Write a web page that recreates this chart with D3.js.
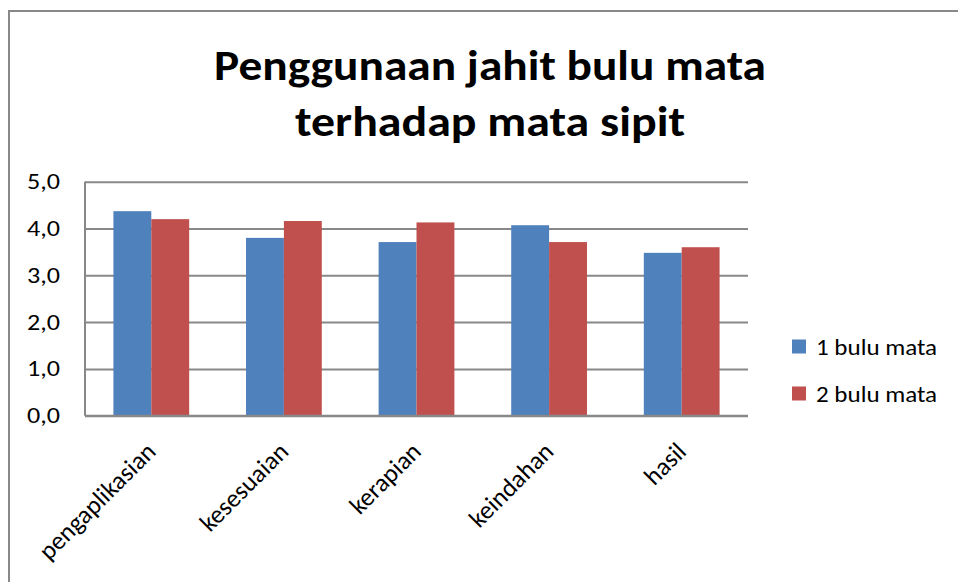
<!DOCTYPE html>
<html>
<head>
<meta charset="utf-8">
<script src="https://cdn.jsdelivr.net/npm/d3@7"></script>
<style>
  body { margin: 0; background: #fff; }
  text { font-family: Carlito, Lato, "Open Sans", sans-serif; fill: #000; }
</style>
</head>
<body>
<svg width="958" height="582"></svg>
<script>
// data
const categories = ["pengaplikasian", "kesesuaian", "kerapian", "keindahan", "hasil"];
const seriesNames = ["1 bulu mata", "2 bulu mata"];
const satuBulu = [4.37, 3.80, 3.71, 4.07, 3.48];
const duaBulu = [4.20, 4.16, 4.13, 3.71, 3.60];
const yTicks = [0, 1, 2, 3, 4, 5];
const titleLines = ["Penggunaan jahit bulu mata", "terhadap mata sipit"];
const colors = ["#4F81BD", "#C0504D"];

const svg = d3.select("svg");
const plotL = 85, plotR = 748, plotT = 181.7, plotB = 415.7;

// chart frame (runs off the right and bottom edge)
svg.append("rect")
    .attr("x", 9).attr("y", 11)
    .attr("width", 1000).attr("height", 700)
    .attr("fill", "none")
    .attr("stroke", "#888")
    .attr("stroke-width", 2);

// title, the picture is a bit stretched sideways so force the widths
svg.selectAll("text.title")
    .data(titleLines)
    .enter().append("text")
    .attr("class", "title")
    .attr("x", 490)
    .attr("y", (d, i) => 80 + i * 56)
    .attr("text-anchor", "middle")
    .attr("font-size", 43)
    .attr("font-weight", "bold")
    .attr("textLength", (d, i) => i == 0 ? 552 : 390)
    .attr("lengthAdjust", "spacingAndGlyphs")
    .text(d => d);

var xScale = d3.scaleBand().domain(categories).range([plotL, plotR])
    .paddingInner(0.4286).paddingOuter(0.2143);
var xSub = d3.scaleBand().domain([0, 1]).range([0, xScale.bandwidth()]);
var yScale = d3.scaleLinear().domain([0, 5]).range([plotB, plotT]);

// gridlines
svg.append("g")
    .attr("transform", "translate(" + plotL + ",0)")
    .call(d3.axisLeft(yScale).tickValues(yTicks).tickSize(-(plotR - plotL)).tickFormat(""))
    .call(g => g.select(".domain").remove())
    .call(g => g.selectAll("line").attr("stroke", "#888").attr("stroke-width", 2));

// y axis line
svg.append("line")
    .attr("x1", plotL).attr("x2", plotL)
    .attr("y1", yScale(5)).attr("y2", yScale(0))
    .attr("stroke", "#888").attr("stroke-width", 2);

// y labels
svg.selectAll("text.ylab")
    .data(yTicks)
    .enter().append("text")
    .attr("class", "ylab")
    .attr("x", 60)
    .attr("y", d => yScale(d))
    .attr("dy", "0.34em")
    .attr("text-anchor", "end")
    .attr("font-size", 22)
    .attr("textLength", 33)
    .attr("lengthAdjust", "spacingAndGlyphs")
    .text(d => d3.format(".1f")(d).replace(".", ","));

// bars
const rows = categories.map((c, i) => ({ cat: c, vals: [satuBulu[i], duaBulu[i]] }));
const grp = svg.selectAll("g.cat")
    .data(rows)
    .enter().append("g")
    .attr("class", "cat")
    .attr("transform", d => "translate(" + xScale(d.cat) + ",0)");
grp.selectAll("rect")
    .data(d => d.vals)
    .enter().append("rect")
    .attr("x", (d, i) => xSub(i))
    .attr("y", d => yScale(d))
    .attr("width", xSub.bandwidth())
    .attr("height", d => yScale(0) - yScale(d))
    .attr("fill", (d, i) => colors[i]);

// bottom gridline drawn on top of bars
svg.append("line")
    .attr("x1", plotL).attr("x2", plotR)
    .attr("y1", yScale(0)).attr("y2", yScale(0))
    .attr("stroke", "#888").attr("stroke-width", 2);

// x labels rotated
svg.selectAll("text.xlab")
    .data(categories)
    .enter().append("text")
    .attr("class", "xlab")
    .attr("text-anchor", "end")
    .attr("font-size", 25.5)
    .attr("transform", d => "translate(" + (xScale(d) + xScale.bandwidth() / 2 + 6) + ",453) rotate(-45)")
    .text(d => d);

// legend
const leg = svg.selectAll("g.leg")
    .data(seriesNames)
    .enter().append("g")
    .attr("class", "leg")
    .attr("transform", (d, i) => "translate(792," + (339.5 + i * 47) + ")");
leg.append("rect")
    .attr("width", 14).attr("height", 14)
    .attr("fill", (d, i) => colors[i]);
leg.append("text")
    .attr("x", 24).attr("y", 15.5)
    .attr("font-size", 22)
    .attr("textLength", 121)
    .attr("lengthAdjust", "spacingAndGlyphs")
    .text(d => d);
</script>
</body>
</html>
